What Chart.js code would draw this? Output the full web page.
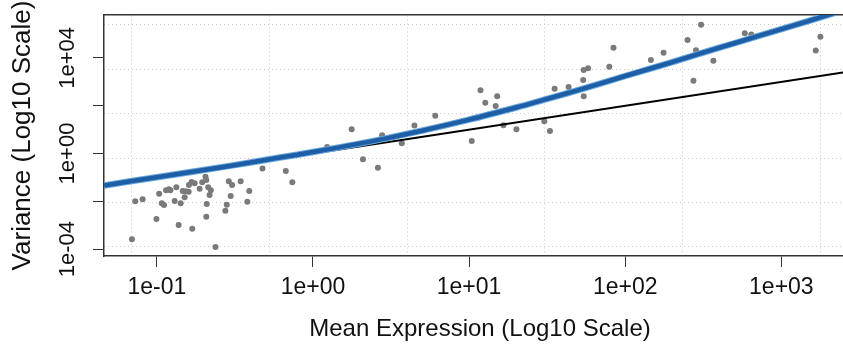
<!DOCTYPE html>
<html>
<head>
<meta charset="utf-8">
<script src="https://cdn.jsdelivr.net/npm/chart.js@4"></script>
<style>
    html, body { margin: 0; padding: 0; background: #fff; overflow: hidden; }
    #wrap { width: 860px; height: 351px; }
</style>
</head>
<body>
<div id="wrap"><canvas id="mvPlot"></canvas></div>
<script>
// Gene-level mean and variance
const meanExpr = [
    0.0693, 0.0728, 0.0811, 0.0995, 0.1035, 0.1076, 0.1112, 0.1146, 0.1197, 0.1222,
    0.1334, 0.1302, 0.138, 0.1422, 0.1465, 0.1507, 0.153, 0.160, 0.1606, 0.167,
    0.1746, 0.1687, 0.188, 0.1954, 0.205, 0.2075, 0.2134, 0.2218, 0.2178, 0.209,
    0.2075, 0.2377, 0.289, 0.3036, 0.2972, 0.2805, 0.2748, 0.3444, 0.391, 0.380,
    0.4753, 0.670, 0.738, 1.233, 1.77, 2.09, 2.606, 2.773, 3.707, 4.467,
    6.07, 10.4, 11.83, 12.7, 14.8, 15.14, 16.6, 20.1, 30.3, 32.96,
    35.3, 43.4, 53.8, 54.2, 54.2, 57.8, 79.1, 84.1, 146, 176,
    250.6, 306, 284, 367, 273.5, 583, 642, 1778, 1660
];
const variance = [
    2.57e-4, 0.0100, 0.0121, 0.00182, 0.0208, 0.00824, 0.0070, 0.0289, 0.0318, 0.0289,
    0.0385, 0.0103, 0.00102, 0.00824, 0.0270, 0.0147, 0.0262, 0.0252, 0.0481, 0.0643,
    0.0566, 7.14e-4, 0.0337, 0.0624, 0.107, 0.0778, 0.0385, 0.0289, 0.0184, 0.0077,
    0.00227, 1.22e-4, 0.0687, 0.0481, 0.0167, 0.0072, 0.00405, 0.0687, 0.0270, 0.0096,
    0.2355, 0.185, 0.0624, 1.87, 10.4, 0.572, 0.255, 5.78, 2.67, 14.85,
    37.8, 3.33, 445, 133.6, 97.1, 247, 15.3, 10.3, 22.2, 8.74,
    509, 606, 1189, 250, 3119, 3670, 4285, 26480, 8170, 16500,
    56100, 242700, 20800, 7570, 1112, 107000, 94400, 76400, 20400
];

// fitted mean-variance curve (blue)
const fitMean = [0.046, 0.1, 0.3, 0.6, 1, 2, 3, 5, 10, 20, 30, 50, 100, 200, 300, 500, 1000, 2200];
const fitVar  = [0.046, 0.102, 0.31, 0.66, 1.15, 2.6, 4.4, 9, 26, 84, 175, 450, 1750, 6700, 15000, 41000, 160000, 760000];

// variance = mean (black)
const poissonMean = [0.0459, 3006];
const poissonVar  = [0.0459, 3006];

const xTicks = [0.1, 1, 10, 100, 1000];
const xTickLabels = ['1e-01', '1e+00', '1e+01', '1e+02', '1e+03'];
const yTicks = [1e-4, 1e-2, 1, 1e2, 1e4];
const yTickLabels = ['1e-04', '', '1e+00', '', '1e+04'];

const toPoints = (xs, ys) => xs.map((x, i) => ({ x: x, y: ys[i] }));

const FONT = "'Liberation Sans', Arial, Helvetica, sans-serif";
const gridDots = { color: '#c9c9c9', lineWidth: 1, drawTicks: false };

new Chart(document.getElementById('mvPlot').getContext('2d'), {
    type: 'scatter',
    data: {
        datasets: [
            {
                label: 'fit',
                data: toPoints(fitMean, fitVar),
                showLine: true,
                borderColor: '#1d5ea6',
                borderWidth: 4.5,
                pointRadius: 0,
                tension: 0.3
            },
            {
                label: 'fit halo',
                data: toPoints(fitMean, fitVar),
                showLine: true,
                borderColor: '#6aa8dc',
                borderWidth: 6.5,
                pointRadius: 0,
                tension: 0.3
            },
            {
                label: 'poisson',
                data: toPoints(poissonMean, poissonVar),
                showLine: true,
                borderColor: '#000',
                borderWidth: 2,
                pointRadius: 0
            },
            {
                label: 'genes',
                data: toPoints(meanExpr, variance),
                backgroundColor: '#7a7a7a',
                borderWidth: 0,
                pointRadius: 3
            }
        ]
    },
    options: {
        responsive: true,
        maintainAspectRatio: false,
        animation: false,
        layout: { padding: { top: 15, left: 0, right: 0, bottom: 0 } },
        plugins: { legend: { display: false }, tooltip: { enabled: false } },
        scales: {
            x: {
                type: 'logarithmic',
                position: 'bottom',
                min: 0.0459,
                max: 3006,
                afterBuildTicks: (s) => { s.ticks = xTicks.map(v => ({ value: v })); },
                afterFit: (s) => { s.height = 95; },
                ticks: {
                    autoSkip: false,
                    maxRotation: 0,
                    padding: 7,
                    color: '#111',
                    font: { family: FONT, size: 23 },
                    callback: (v, i) => xTickLabels[i]
                },
                grid: { display: true, drawOnChartArea: false, drawTicks: true, tickLength: 11, tickColor: '#333', tickWidth: 1 },
                border: { display: true, color: '#333', width: 1.5 },
                title: {
                    display: true,
                    text: 'Mean Expression (Log10 Scale)',
                    color: '#111',
                    font: { family: FONT, size: 24 },
                    padding: { top: 0, bottom: 7 }
                }
            },
            y: {
                type: 'logarithmic',
                position: 'left',
                min: 5.14e-5,
                max: 6.24e5,
                afterBuildTicks: (s) => { s.ticks = yTicks.map(v => ({ value: v })); },
                afterFit: (s) => { s.width = 104; },
                ticks: {
                    autoSkip: false,
                    minRotation: 90,
                    maxRotation: 90,
                    crossAlign: 'center',
                    padding: -6,
                    color: '#111',
                    font: { family: FONT, size: 22 },
                    callback: (v, i) => yTickLabels[i]
                },
                grid: { display: true, drawOnChartArea: false, drawTicks: true, tickLength: 11, tickColor: '#333', tickWidth: 1 },
                border: { display: true, color: '#333', width: 1.5 },
                title: {
                    display: true,
                    text: 'Variance (Log10 Scale)',
                    color: '#111',
                    font: { family: FONT, size: 26 },
                    padding: { top: 7, bottom: 0 }
                }
            },
            // dotted background grid, spaced independently of the axis ticks
            gx: {
                type: 'linear',
                position: 'top',
                min: -0.202,
                max: 5.26,
                afterBuildTicks: (s) => { s.ticks = [0, 1, 2, 3, 4, 5].map(v => ({ value: v })); },
                afterFit: (s) => { s.height = 0; },
                ticks: { display: false },
                grid: gridDots,
                border: { display: true, color: '#333', width: 1.5, dash: [1, 3] }
            },
            gy: {
                type: 'linear',
                position: 'right',
                min: -0.203,
                max: 5.225,
                afterBuildTicks: (s) => { s.ticks = [0, 1, 2, 3, 4, 5].map(v => ({ value: v })); },
                afterFit: (s) => { s.width = 0; },
                ticks: { display: false },
                grid: gridDots,
                border: { display: false, dash: [1, 3] }
            }
        }
    }
});
</script>
</body>
</html>
